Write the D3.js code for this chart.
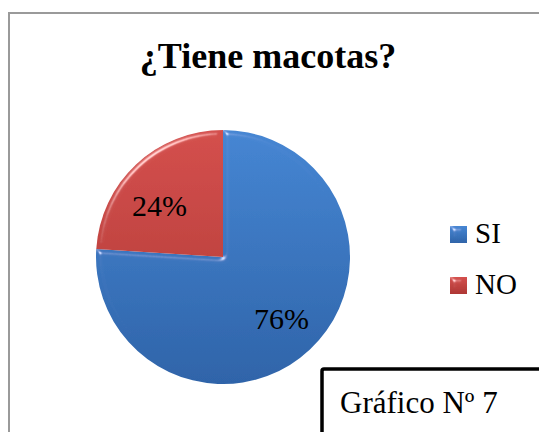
<!DOCTYPE html>
<html>
<head>
<meta charset="utf-8">
<script src="https://cdn.jsdelivr.net/npm/d3@7"></script>
<style>
  html, body { margin: 0; padding: 0; background: #fff; }
  svg { display: block; }
</style>
</head>
<body>
<svg id="chart" width="539" height="432"></svg>
<script>
// chart data
const categories = ["SI", "NO"];
const values = [76, 24];
const labels = ["76%", "24%"];
// top / bottom shade of each slice
const colorsTop = ["#4686D3", "#D4504D"];
const colorsBottom = ["#2F64A9", "#AE3735"];

const title = "¿Tiene macotas?";
const caption = "Gráfico Nº 7";

const width = 539, height = 432;
const cx = 223, cy = 257, radius = 127;
const serif = "Liberation Serif";
// small nudges so labels sit where office put them
const labelNudge = [[1, 0], [-6, 10]];

const svg = d3.select("#chart");
const defs = svg.append("defs");

// bevel look like the office pie
const bevel = defs.append("filter")
    .attr("id", "bevel")
    .attr("x", "-10%").attr("y", "-10%")
    .attr("width", "120%").attr("height", "120%");
bevel.append("feGaussianBlur")
    .attr("in", "SourceAlpha")
    .attr("stdDeviation", 2.5)
    .attr("result", "blur");
const spec = bevel.append("feSpecularLighting")
    .attr("in", "blur")
    .attr("surfaceScale", 4)
    .attr("specularConstant", 0.6)
    .attr("specularExponent", 40)
    .attr("lighting-color", "#ffffff")
    .attr("result", "spec");
spec.append("feDistantLight").attr("azimuth", 235).attr("elevation", 30);
bevel.append("feComposite")
    .attr("in", "spec").attr("in2", "SourceAlpha")
    .attr("operator", "in").attr("result", "specIn");
bevel.append("feComposite")
    .attr("in", "SourceGraphic").attr("in2", "specIn")
    .attr("operator", "arithmetic")
    .attr("k1", 0).attr("k2", 1).attr("k3", 1).attr("k4", 0);

categories.forEach((c, i) => {
    const grad = defs.append("linearGradient")
        .attr("id", `grad${i}`)
        .attr("gradientUnits", "userSpaceOnUse")
        .attr("x1", 0).attr("y1", -radius)
        .attr("x2", 0).attr("y2", radius);
    grad.append("stop").attr("offset", "0%").attr("stop-color", colorsTop[i]);
    grad.append("stop").attr("offset", "100%").attr("stop-color", colorsBottom[i]);

    const lg = defs.append("linearGradient")
        .attr("id", `lgrad${i}`)
        .attr("x1", 0).attr("y1", 0).attr("x2", 0).attr("y2", 1);
    lg.append("stop").attr("offset", "0%").attr("stop-color", colorsTop[i]);
    lg.append("stop").attr("offset", "100%").attr("stop-color", colorsBottom[i]);
});

// outer frame
svg.append("rect")
    .attr("x", 9).attr("y", 13)
    .attr("width", width + 20).attr("height", height + 20)
    .attr("fill", "none")
    .attr("stroke", "#9a9a9a")
    .attr("stroke-width", 2);

svg.append("text")
    .attr("x", 268).attr("y", 68)
    .attr("text-anchor", "middle")
    .attr("font-family", serif)
    .attr("font-size", 36)
    .attr("font-weight", "bold")
    .text(title);

const pie = d3.pie().sort(null).value(d => d);
const arc = d3.arc().innerRadius(0).outerRadius(radius);
const labelArc = d3.arc().innerRadius(radius * 0.66).outerRadius(radius * 0.66);

const g = svg.append("g").attr("transform", `translate(${cx},${cy})`);
const slices = pie(values);

g.selectAll("path")
    .data(slices)
    .enter().append("path")
    .attr("d", arc)
    .attr("fill", (d, i) => `url(#grad${i})`)
    .attr("filter", "url(#bevel)");

g.selectAll("text")
    .data(slices)
    .enter().append("text")
    .attr("transform", (d, i) => {
        const [x, y] = labelArc.centroid(d);
        return `translate(${x + labelNudge[i][0]},${y + labelNudge[i][1]})`;
    })
    .attr("text-anchor", "middle")
    .attr("dy", "0.35em")
    .attr("font-family", serif)
    .attr("font-size", 30)
    .attr("fill", "#000")
    .text((d, i) => labels[i]);

// legend
const legend = svg.append("g").attr("transform", "translate(450,226)");
const item = legend.selectAll("g")
    .data(categories)
    .enter().append("g")
    .attr("transform", (d, i) => `translate(0,${i * 51})`);
item.append("rect")
    .attr("width", 17).attr("height", 17)
    .attr("fill", (d, i) => `url(#lgrad${i})`)
    .attr("filter", "url(#bevel)");
item.append("text")
    .attr("x", 25).attr("y", 17)
    .attr("font-family", serif)
    .attr("font-size", 29)
    .text(d => d);

// caption box
svg.append("rect")
    .attr("x", 322).attr("y", 369)
    .attr("width", 260).attr("height", 100)
    .attr("rx", 2)
    .attr("fill", "#fff")
    .attr("stroke", "#000")
    .attr("stroke-width", 3.5);
svg.append("text")
    .attr("x", 340).attr("y", 413)
    .attr("font-family", serif)
    .attr("font-size", 31)
    .text(caption);
</script>
</body>
</html>
